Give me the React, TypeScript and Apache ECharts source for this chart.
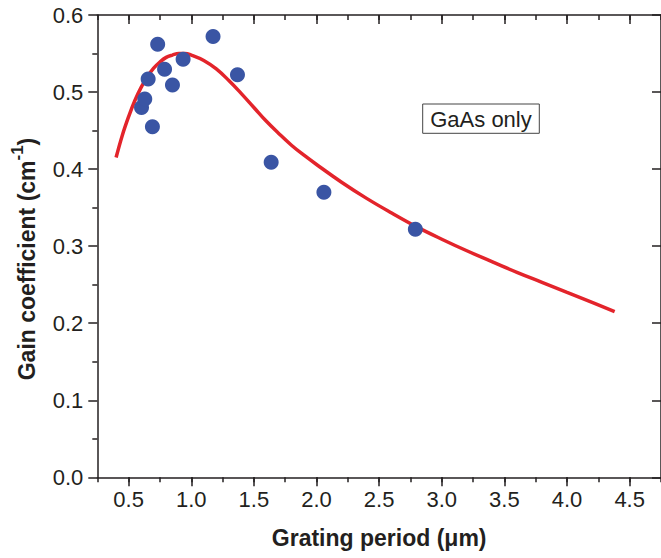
import React, { useEffect, useRef } from "react";
import * as echarts from "echarts";

// Measured points (grating period in µm, gain coefficient in cm^-1)
const pointX = [0.603, 0.629, 0.656, 0.690, 0.732, 0.787, 0.850, 0.935, 1.174, 1.369, 1.638, 2.059, 2.789];
const pointY = [0.480, 0.491, 0.517, 0.455, 0.562, 0.5295, 0.509, 0.5425, 0.572, 0.5225, 0.409, 0.370, 0.322];

// Model curve
const curveX = [0.40, 0.45, 0.50, 0.55, 0.60, 0.65, 0.70, 0.75, 0.80, 0.85, 0.90, 0.95, 1.0, 1.1, 1.2, 1.3, 1.4, 1.5, 1.6, 1.7, 1.8, 1.9, 2.0, 2.2, 2.4, 2.6, 2.8, 3.0, 3.2, 3.4, 3.6, 3.8, 4.0, 4.2, 4.38];
const curveY = [0.415, 0.444, 0.468, 0.489, 0.506, 0.520, 0.531, 0.539, 0.545, 0.548, 0.550, 0.550, 0.548, 0.541, 0.530, 0.515, 0.498, 0.480, 0.462, 0.446, 0.431, 0.418, 0.406, 0.383, 0.362, 0.343, 0.325, 0.309, 0.294, 0.280, 0.266, 0.253, 0.240, 0.227, 0.215];

// Axis ticks
const xMajorTicks = [0.5, 1.0, 1.5, 2.0, 2.5, 3.0, 3.5, 4.0, 4.5];
const xMin = 0.25;
const xMax = 4.75;
const yMin = 0;
const yMax = 0.6;

const FONT = "'Liberation Sans', Arial, Helvetica, sans-serif";
const INK = "#231f20";

export default function App() {
  const ref = useRef<HTMLDivElement>(null);
  useEffect(() => {
    document.body.style.margin = "0";
    const chart = echarts.init(ref.current!, null, { renderer: "svg" });
    const lineStyle = { color: INK, width: 1.5 };
    const baseX = {
      type: "value" as const,
      min: xMin,
      max: xMax,
      splitLine: { show: false },
    };
    chart.setOption({
      animation: false,
      backgroundColor: "#ffffff",
      grid: { left: 97.3, top: 15, width: 569.7, height: 462.3, containLabel: false },
      xAxis: [
        {
          ...baseX,
          position: "bottom",
          axisLine: { show: true, lineStyle },
          axisTick: { show: true, customValues: xMajorTicks, length: 9, inside: false, lineStyle },
          axisLabel: {
            show: true,
            customValues: xMajorTicks,
            formatter: (v: number) => v.toFixed(1),
            fontSize: 22,
            fontFamily: FONT,
            color: INK,
            margin: 11,
          },
          name: "Grating period (μm)",
          nameLocation: "middle",
          nameGap: 49,
          nameTextStyle: { fontSize: 23, fontWeight: "bold", fontFamily: FONT, color: INK },
        },
        {
          ...baseX,
          position: "bottom",
          interval: 0.25,
          axisLine: { show: false },
          axisTick: { show: true, length: 5, inside: false, lineStyle },
          axisLabel: { show: false },
        },
        {
          ...baseX,
          position: "top",
          axisLine: { show: true, lineStyle },
          axisTick: { show: true, customValues: xMajorTicks, length: 9, inside: true, lineStyle },
          axisLabel: { show: false },
        },
        {
          ...baseX,
          position: "top",
          interval: 0.25,
          axisLine: { show: false },
          axisTick: { show: true, length: 5, inside: true, lineStyle },
          axisLabel: { show: false },
        },
      ],
      yAxis: [
        {
          type: "value",
          position: "left",
          min: yMin,
          max: yMax,
          interval: 0.1,
          splitLine: { show: false },
          axisLine: { show: true, lineStyle },
          axisTick: { show: true, length: 9, inside: false, lineStyle },
          minorTick: { show: true, splitNumber: 2, length: 5, lineStyle },
          minorSplitLine: { show: false },
          axisLabel: {
            formatter: (v: number) => v.toFixed(1),
            fontSize: 22,
            fontFamily: FONT,
            color: INK,
            margin: 14,
          },
        },
        {
          type: "value",
          position: "right",
          min: yMin,
          max: yMax,
          interval: 0.1,
          splitLine: { show: false },
          axisLine: { show: true, lineStyle },
          axisTick: { show: true, length: 9, inside: true, lineStyle },
          axisLabel: { show: false },
        },
      ],
      graphic: [
        {
          type: "rect",
          shape: { x: 422.7, y: 104, width: 116.6, height: 29.3 },
          style: { fill: "#ffffff", stroke: "#444444", lineWidth: 1 },
          z: 10,
        },
        {
          type: "text",
          x: 481,
          y: 119,
          style: {
            text: "GaAs only",
            fontSize: 22,
            fontFamily: FONT,
            fill: INK,
            align: "center",
            verticalAlign: "middle",
          },
          z: 11,
        },
        {
          type: "text",
          x: 26.5,
          y: 259,
          rotation: Math.PI / 2,
          style: {
            text: "{m|Gain coefficient (cm}{s|-1}{m|)}",
            align: "center",
            verticalAlign: "middle",
            fill: INK,
            rich: {
              m: { fontSize: 23, fontWeight: "bold", fontFamily: FONT, fill: INK, lineHeight: 36, verticalAlign: "middle" },
              s: { fontSize: 17, fontWeight: "bold", fontFamily: FONT, fill: INK, lineHeight: 17, verticalAlign: "top" },
            },
          },
        },
      ],
      series: [
        {
          type: "line",
          xAxisIndex: 0,
          yAxisIndex: 0,
          data: curveX.map((x, i) => [x, curveY[i]]),
          smooth: 0.4,
          showSymbol: false,
          symbol: "none",
          lineStyle: { color: "#e3242b", width: 3.5 },
          z: 2,
        },
        {
          type: "scatter",
          xAxisIndex: 0,
          yAxisIndex: 0,
          data: pointX.map((x, i) => [x, pointY[i]]),
          symbol: "circle",
          symbolSize: 15,
          itemStyle: { color: "#3a55a4", opacity: 1 },
          z: 3,
        },
      ],
    });
    return () => chart.dispose();
  }, []);
  return <div ref={ref} style={{ width: 661, height: 558 }} />;
}
